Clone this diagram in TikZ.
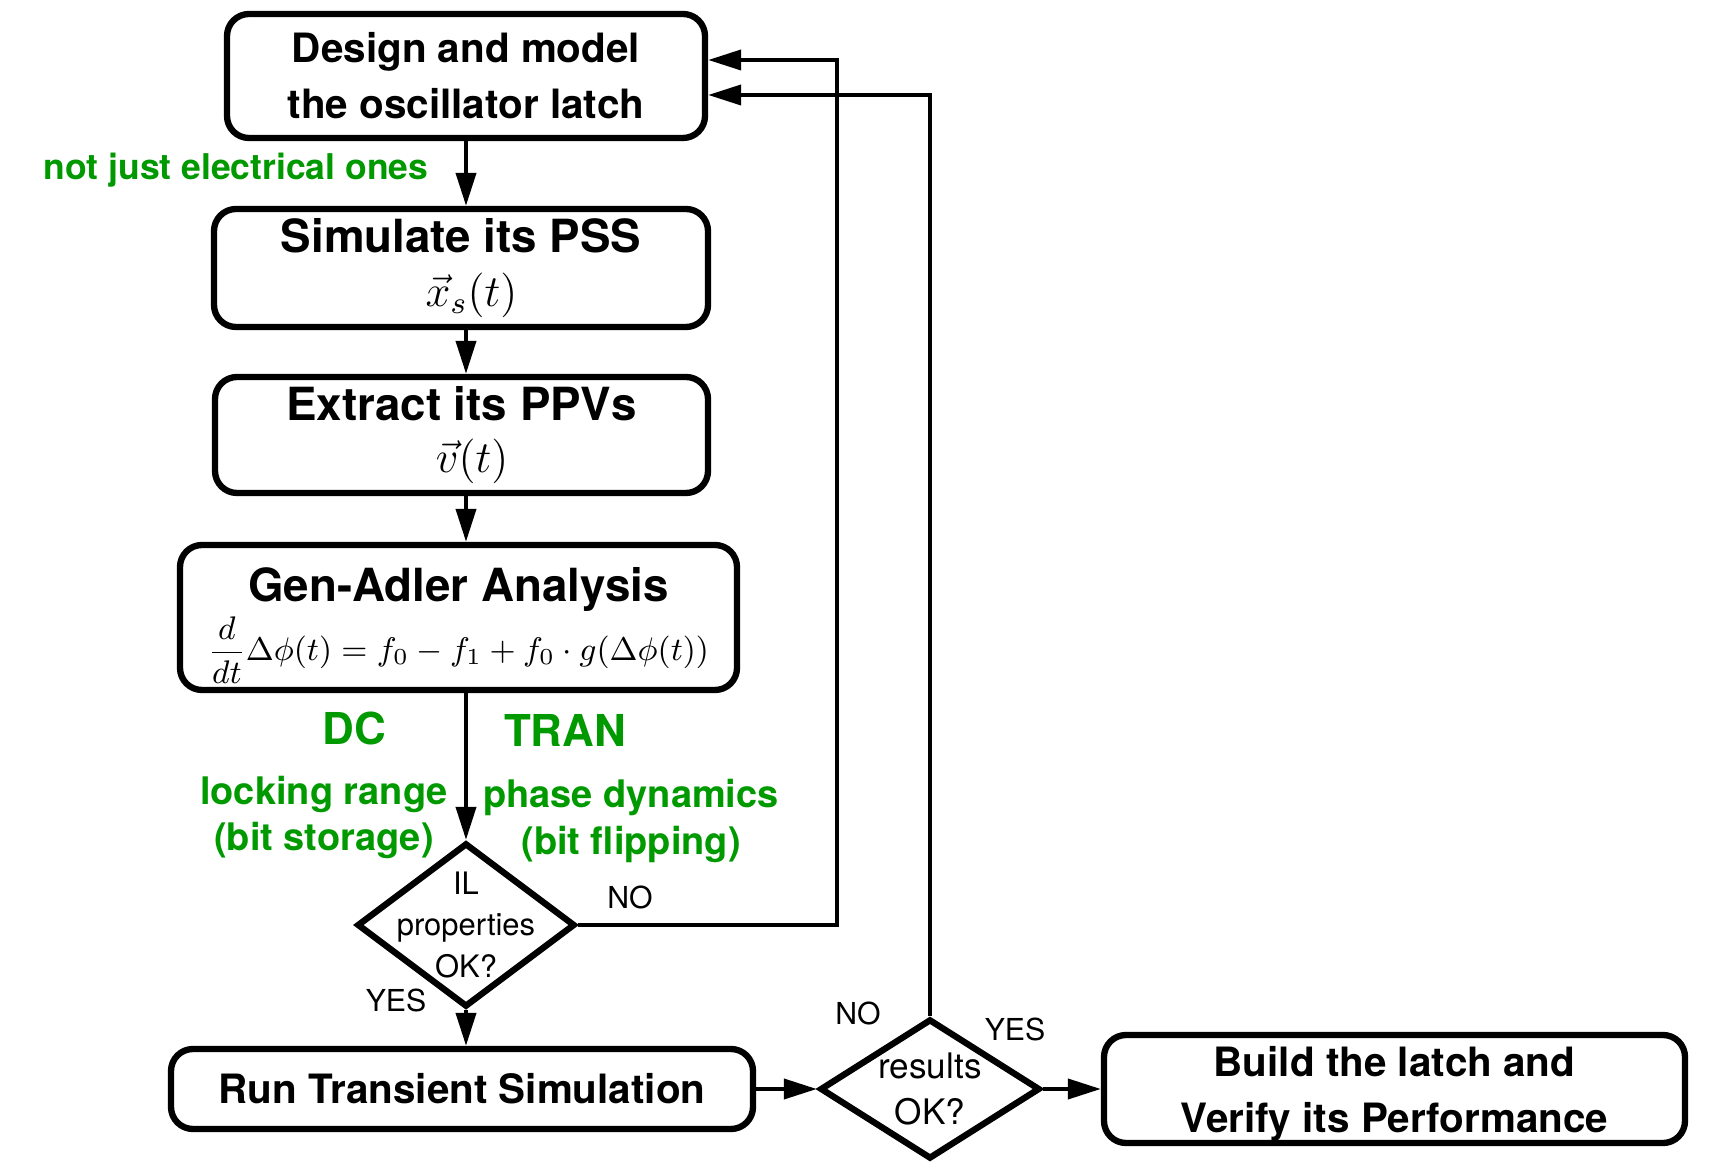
\RequirePackage{fix-cm}
\documentclass[tikz,border=0pt]{standalone}
\usepackage{fontspec}
\newfontfamily\heros{TeX Gyre Heros}
\usetikzlibrary{shapes.geometric,arrows.meta}
\definecolor{notegreen}{RGB}{0,153,0}

\begin{document}
\begin{tikzpicture}[
  stepbox/.style={draw, line width=1.8pt, rounded corners=0.22cm, align=center, inner sep=0pt, font=\heros\bfseries\fontsize{13}{17}\selectfont},
  decision/.style={draw, diamond, line width=1.8pt, inner sep=0pt},
  qtext/.style={align=center, font=\heros\fontsize{8.8}{11.7}\selectfont},
  arr/.style={line width=1.1pt, -{Triangle[length=3.3mm,width=2mm]}},
  note/.style={text=notegreen, align=center, font=\heros\bfseries\fontsize{10.8}{13.5}\selectfont},
  ans/.style={font=\heros\fontsize{8.6}{10}\selectfont}]
  \useasboundingbox (0,0) rectangle (17.09,11.66);

  \node[stepbox, minimum width=4.78cm, minimum height=1.24cm, font=\heros\bfseries\fontsize{11.5}{16}\selectfont] (design) at (4.66,10.90) {Design and model\\the oscillator latch};
  \node[stepbox, minimum width=4.94cm, minimum height=1.18cm] (pss) at (4.61,8.98) {Simulate its PSS\\[-1.4pt] \fontsize{12.7}{14}\selectfont \hspace{6pt}$\vec{x}_s(t)$};
  \node[stepbox, minimum width=4.93cm, minimum height=1.16cm] (ppv) at (4.615,7.31) {Extract its PPVs\\[-2.4pt] \fontsize{12.7}{14}\selectfont \hspace{6pt}$\vec{v}(t)$};
  \node[stepbox, minimum width=5.57cm, minimum height=1.45cm] (adler) at (4.585,5.485) {\rule{0pt}{14pt}Gen-Adler Analysis\\[0pt] \fontsize{9.3}{12}\selectfont $\displaystyle \frac{d}{dt}\Delta\phi(t) = f_0 - f_1 + f_0 \cdot g(\Delta\phi(t))$};

  \node[decision, minimum width=2.18cm, minimum height=1.64cm] (il) at (4.66,2.41) {};
  \node[qtext] (iltext) at (il) {IL\\properties\\OK?};

  \node[stepbox, minimum width=5.82cm, minimum height=0.80cm, font=\heros\bfseries\fontsize{11.5}{16}\selectfont] (run) at (4.62,0.77) {Run Transient Simulation};
  \node[decision, minimum width=2.20cm, minimum height=1.40cm] (res) at (9.30,0.77) {};
  \node[qtext, font=\heros\fontsize{10}{13}\selectfont] (restext) at (res) {results\\OK?};
  \node[stepbox, minimum width=5.81cm, minimum height=1.08cm, font=\heros\bfseries\fontsize{11.5}{16}\selectfont] (build) at (13.945,0.77) {\rule{0pt}{11.5pt}Build the latch and\\Verify its Performance};

  % green notes
  \node[note, font=\heros\bfseries\fontsize{10.1}{12}\selectfont] (phys) at (2.36,9.96) {not just electrical ones};
  \node[note, font=\heros\bfseries\fontsize{12.5}{15}\selectfont] (dc) at (3.54,4.38) {DC};
  \node[note, font=\heros\bfseries\fontsize{12.5}{15}\selectfont] (tran) at (5.65,4.36) {TRAN};
  \node[note, font=\heros\bfseries\fontsize{10.8}{13}\selectfont] (lock) at (3.24,3.485) {locking range\\(bit storage)};
  \node[note] (phase) at (6.31,3.45) {phase dynamics\\(bit flipping)};

  % answers
  \node[ans] (ilno) at (6.30,2.69) {NO};
  \node[ans] (ilyes) at (3.96,1.66) {YES};
  \node[ans] (resno) at (8.58,1.53) {NO};
  \node[ans] (resyes) at (10.15,1.37) {YES};

  % connectors
  \coordinate (noil) at (8.37,11.06);
  \coordinate (nores) at (9.30,10.71);
  \draw[arr] (design) -- (pss.north -| design);
  \draw[arr] (pss.south -| design) -- (ppv.north -| design);
  \draw[arr] (ppv.south -| design) -- (adler.north -| design);
  \draw[arr] (adler.south -| il) -- (il);
  \draw[arr] (il) -- (run.north -| il);
  \draw[arr] (run) -- (res);
  \draw[arr] (res) -- (build);
  \draw[arr] (il.east) -| (noil) -- (noil -| design.east);
  \draw[arr] (res.north) -- (nores) -- (nores -| design.east);
\end{tikzpicture}
\end{document}
